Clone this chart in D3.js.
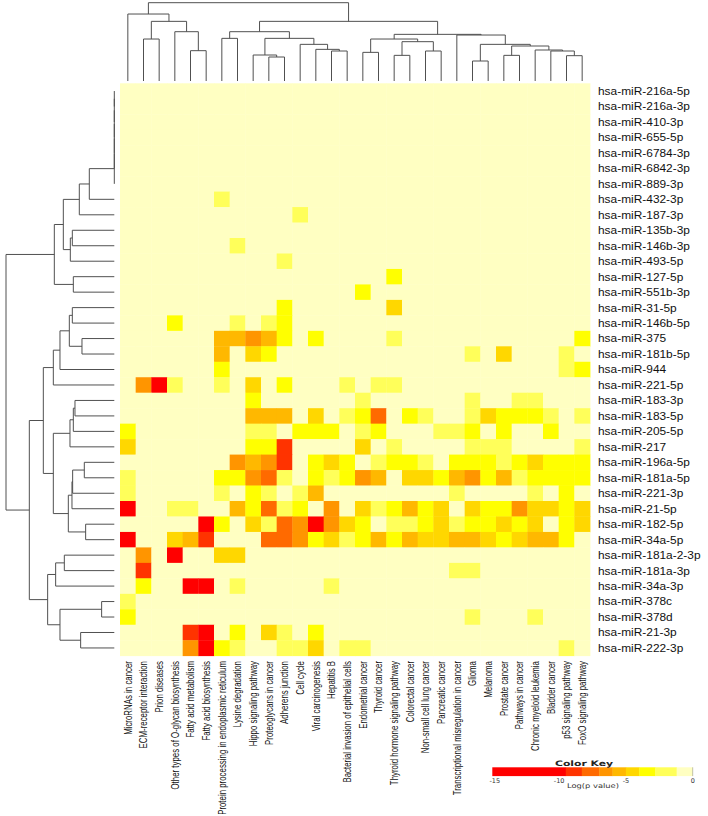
<!DOCTYPE html>
<html>
<head>
<meta charset="utf-8">
<script src="https://cdn.jsdelivr.net/npm/d3@7"></script>
<style>
  html, body { margin: 0; padding: 0; background: #ffffff; }
  svg { display: block; }
</style>
</head>
<body>
<svg id="chart" width="708" height="816"></svg>
<script>
// ---------------- DATA ----------------
const pathways = [
  "MicroRNAs in cancer", "ECM-receptor interaction", "Prion diseases",
  "Other types of O-glycan biosynthesis", "Fatty acid metabolism", "Fatty acid biosynthesis",
  "Protein processing in endoplasmic reticulum", "Lysine degradation", "Hippo signaling pathway",
  "Proteoglycans in cancer", "Adherens junction", "Cell cycle", "Viral carcinogenesis",
  "Hepatitis B", "Bacterial invasion of epithelial cells", "Endometrial cancer", "Thyroid cancer",
  "Thyroid hormone signaling pathway", "Colorectal cancer", "Non-small cell lung cancer",
  "Pancreatic cancer", "Transcriptional misregulation in cancer", "Glioma", "Melanoma",
  "Prostate cancer", "Pathways in cancer", "Chronic myeloid leukemia", "Bladder cancer",
  "p53 signaling pathway", "FoxO signaling pathway"
];

const mirnas = [
  "hsa-miR-216a-5p", "hsa-miR-216a-3p", "hsa-miR-410-3p", "hsa-miR-655-5p", "hsa-miR-6784-3p",
  "hsa-miR-6842-3p", "hsa-miR-889-3p", "hsa-miR-432-3p", "hsa-miR-187-3p", "hsa-miR-135b-3p",
  "hsa-miR-146b-3p", "hsa-miR-493-5p", "hsa-miR-127-5p", "hsa-miR-551b-3p", "hsa-miR-31-5p",
  "hsa-miR-146b-5p", "hsa-miR-375", "hsa-miR-181b-5p", "hsa-miR-944", "hsa-miR-221-5p",
  "hsa-miR-183-3p", "hsa-miR-183-5p", "hsa-miR-205-5p", "hsa-miR-217", "hsa-miR-196a-5p",
  "hsa-miR-181a-5p", "hsa-miR-221-3p", "hsa-miR-21-5p", "hsa-miR-182-5p", "hsa-miR-34a-5p",
  "hsa-miR-181a-2-3p", "hsa-miR-181a-3p", "hsa-miR-34a-3p", "hsa-miR-378c", "hsa-miR-378d",
  "hsa-miR-21-3p", "hsa-miR-222-3p"
];

// Log(p value) per miRNA (rows) x pathway (columns)
const values = [
  [0,0,0,0,0,0,0,0,0,0, 0,0,0,0,0,0,0,0,0,0, 0,0,0,0,0,0,0,0,0,0],
  [0,0,0,0,0,0,0,0,0,0, 0,0,0,0,0,0,0,0,0,0, 0,0,0,0,0,0,0,0,0,0],
  [0,0,0,0,0,0,0,0,0,0, 0,0,0,0,0,0,0,0,0,0, 0,0,0,0,0,0,0,0,0,0],
  [0,0,0,0,0,0,0,0,0,0, 0,0,0,0,0,0,0,0,0,0, 0,0,0,0,0,0,0,0,0,0],
  [0,0,0,0,0,0,0,0,0,0, 0,0,0,0,0,0,0,0,0,0, 0,0,0,0,0,0,0,0,0,0],
  [0,0,0,0,0,0,0,0,0,0, 0,0,0,0,0,0,0,0,0,0, 0,0,0,0,0,0,0,0,0,0],
  [0,0,0,0,0,0,0,0,0,0, 0,0,0,0,0,0,0,0,0,0, 0,0,0,0,0,0,0,0,0,0],
  [0,0,0,0,0,0,-2,0,0,0, 0,0,0,0,0,0,0,0,0,0, 0,0,0,0,0,0,0,0,0,0],
  [0,0,0,0,0,0,0,0,0,0, 0,-2,0,0,0,0,0,0,0,0, 0,0,0,0,0,0,0,0,0,0],
  [0,0,0,0,0,0,0,0,0,0, 0,0,0,0,0,0,0,0,0,0, 0,0,0,0,0,0,0,0,0,0],
  [0,0,0,0,0,0,0,-2,0,0, 0,0,0,0,0,0,0,0,0,0, 0,0,0,0,0,0,0,0,0,0],
  [0,0,0,0,0,0,0,0,0,0, -2,0,0,0,0,0,0,0,0,0, 0,0,0,0,0,0,0,0,0,0],
  [0,0,0,0,0,0,0,0,0,0, 0,0,0,0,0,0,0,-3.4,0,0, 0,0,0,0,0,0,0,0,0,0],
  [0,0,0,0,0,0,0,0,0,0, 0,0,0,0,0,-3.4,0,0,0,0, 0,0,0,0,0,0,0,0,0,0],
  [0,0,0,0,0,0,0,0,0,0, -3.4,0,0,0,0,0,0,-4.5,0,0, 0,0,0,0,0,0,0,0,0,0],
  [0,0,0,-3.4,0,0,0,-2,0,-2, -3.4,0,0,0,0,0,0,0,0,0, 0,0,0,0,0,0,0,0,0,0],
  [0,0,0,0,0,0,-5.5,-5.5,-6.5,-5.5, -3.4,0,-3.4,0,0,0,0,-2,0,0, 0,0,0,0,0,0,0,0,0,-3.4],
  [0,0,0,0,0,0,-5.5,0,-4.5,-3.4, 0,0,0,0,0,0,0,0,0,0, 0,0,-2,0,-4.5,0,0,0,-2,0],
  [0,0,0,0,0,0,-3.4,0,0,0, 0,0,0,0,0,0,0,0,0,0, 0,0,0,0,0,0,0,0,-2,-3.4],
  [0,-6.5,-12,-2,0,0,-2,0,-4.5,0, -3.4,0,0,0,-2,0,-2,-2,0,0, 0,0,0,0,0,0,0,0,0,0],
  [0,0,0,0,0,0,0,0,-3.4,0, 0,0,0,0,0,-2,0,0,0,0, 0,0,-2,0,0,-2,-2,0,0,0],
  [0,0,0,0,0,0,0,0,-5.5,-5.5, -5.5,0,-4.5,0,-2,-3.4,-7.6,0,-3.4,-2, 0,0,-2,-4.5,-3.4,-3.4,-3.4,-2,0,-2],
  [-3.4,0,0,0,0,0,0,0,-2,-2, 0,-3.4,-3.4,-3.4,0,-2,-3.4,0,0,0, -2,-2,-3.4,0,-3.4,0,0,-3.4,0,0],
  [-4.5,0,0,0,0,0,0,0,-3.4,-3.4, -9,0,0,0,0,-4.5,0,-2,0,0, 0,0,-2,-2,-2,0,0,0,0,-2],
  [0,0,0,0,0,0,0,-6.5,-5.5,-6.5, -9,0,-3.4,-4.5,-3.4,0,-2,-3.4,-3.4,-2, 0,-3.4,-3.4,-3.4,-2,-3.4,-4.5,-3.4,-3.4,-3.4],
  [-2,0,0,0,0,0,-3.4,-3.4,-6.5,-7.6, -2,0,-3.4,-2,-3.4,-6.5,-5.5,0,-4.5,-4.5, -3.4,-5.5,-6.5,-3.4,-5.5,-2,-3.4,-3.4,-3.4,-3.4],
  [-2,0,0,0,0,0,-2,0,-3.4,-2, 0,-2,-5.5,0,0,0,0,0,0,0, 0,-2,0,0,0,0,-2,0,-3.4,0],
  [-12,0,0,-2,-2,0,0,-5.5,-3.4,-7.6, -2,-3.4,0,-6.5,0,-4.5,-2,-3.4,-5.5,-3.4, -4.5,0,-4.5,-3.4,-3.4,-6.5,-4.5,-4.5,-3.4,-4.5],
  [0,0,0,0,0,-12,-3.4,0,-4.5,-2, -7.6,-6.5,-12,-6.5,-4.5,-3.4,0,-2,-2,-3.4, -4.5,-2,-3.4,-3.4,-4.5,-3.4,-4.5,0,-3.4,-4.5],
  [-12,0,0,-4.5,-5.5,-9,0,0,0,-7.6, -7.6,-6.5,-3.4,-4.5,-2,-3.4,-5.5,-3.4,-5.5,-4.5, -4.5,-5.5,-5.5,-4.5,-3.4,-4.5,-5.5,-5.5,-3.4,0],
  [0,-6.5,0,-12,0,0,-4.5,-4.5,0,0, 0,0,0,0,0,0,0,0,0,0, 0,0,0,0,0,0,0,0,0,0],
  [0,-9,0,0,0,0,0,0,0,0, 0,0,0,0,0,0,0,0,0,0, 0,-2,-2,0,0,0,0,0,0,0],
  [0,-3.4,0,0,-12,-12,0,-2,0,0, 0,0,0,-2,0,0,0,0,0,0, 0,0,0,0,0,0,0,0,0,0],
  [-2,0,0,0,0,0,0,0,0,0, 0,0,0,0,0,0,0,0,0,0, 0,0,0,0,0,0,0,0,0,0],
  [-3.4,0,0,0,0,0,0,0,0,0, 0,0,0,0,0,0,0,0,0,0, 0,0,-2,0,0,0,-2,0,0,0],
  [0,0,0,0,-9,-12,0,-3.4,0,-4.5, -2,0,-3.4,0,0,0,0,0,0,0, 0,0,0,0,0,0,0,0,0,0],
  [0,0,0,0,-6.5,-12,-3.4,-2,0,0, -2,-2,-4.5,0,-2,-2,0,0,0,0, 0,0,0,0,0,0,0,0,-2,0]
];

// Column dendrogram: leaf = column index, node = [left, right, height]
const colTree = [
  [0, [[1, 2, 126], [3, [4, 5, 91], 148], 179], 201],
  [
    [[6, 7, 128], [[8, [9, 10, 72], 78], [11, [12, [13, 14, 90], 95], 110], 128], 148],
    [
      [[15, 16, 86], [[17, 18, 77], [19, 20, 90], 118], 126],
      [21, [[22, 23, 60], [[24, 25, 77], [26, [27, [28, 29, 76], 90], 93], 105], 110], 138],
      140
    ],
    179
  ],
  235
];

// Row dendrogram: leaf = row index, node = [left, right, height]
const rowZero = [[[[[[0, 1, 0], 2, 0], 3, 0], 4, 0], 5, 0], 6, 0];
const rowTree = [
  [[[[rowZero, 7, 75], 8, 105], [[9, 10, 126], 11, 132], 153], [12, 13, 123], 180],
  [
    [
      [[[[14, 15, 126], [16, 17, 97], 135], 18, 163], 19, 183],
      [[[[20, 21, 118], 22, 123], 23, 133], [[[[24, 25, 90], 26, 125], 27, 127], [28, 29, 86], 138], 183],
      213
    ],
    [[[30, 31, 150], 32, 176], [[33, 34, 38], [35, 36, 101], 163], 200],
    255
  ],
  325
];

const colorBreaks = [-9.5, -8.3, -7.0, -6.0, -5.0, -4.0, -2.8, -1.2];
const colorRange = ["#ff0000", "#ff3300", "#ff6a00", "#ff9500", "#ffb800", "#ffd700", "#ffff00", "#ffff5a", "#ffffc2"];
const keyDomain = [-15, 0];
const keyTicks = [-15, -10, -5, 0];

// ---------------- CHART ----------------
const svg = d3.select("#chart");
const FONT = "'Liberation Sans', Arial, sans-serif";

const x = d3.scaleBand().domain(pathways).range([120, 590]).padding(0);
const y = d3.scaleBand().domain(mirnas).range([83.3, 655.7]).padding(0);
const color = d3.scaleThreshold().domain(colorBreaks).range(colorRange);

// Heatmap cells
const cells = [];
values.forEach((row, i) => row.forEach((v, j) => cells.push({ r: mirnas[i], c: pathways[j], v })));
svg.append("g").selectAll("rect").data(cells).join("rect")
  .attr("x", d => x(d.c))
  .attr("y", d => y(d.r))
  .attr("width", x.bandwidth() + 0.4)
  .attr("height", y.bandwidth() + 0.4)
  .attr("fill", d => color(d.v));

// Dendrogram helpers
function drawTree(tree, leafPos, hScale, orient, g) {
  const path = d3.path();
  function walk(node) {
    if (typeof node === "number") return { p: leafPos(node), h: 0 };
    const a = walk(node[0]), b = walk(node[1]);
    const h = node[2];
    if (orient === "top") {
      path.moveTo(a.p, hScale(a.h)); path.lineTo(a.p, hScale(h));
      path.lineTo(b.p, hScale(h)); path.lineTo(b.p, hScale(b.h));
    } else {
      path.moveTo(hScale(a.h), a.p); path.lineTo(hScale(h), a.p);
      path.lineTo(hScale(h), b.p); path.lineTo(hScale(b.h), b.p);
    }
    return { p: (a.p + b.p) / 2, h };
  }
  walk(tree);
  g.append("path").attr("d", path.toString())
    .attr("fill", "none").attr("stroke", "#505050").attr("stroke-width", 1);
}

const colH = d3.scaleLinear().domain([0, 235]).range([81, 2.7]);
drawTree(colTree, i => x(pathways[i]) + x.bandwidth() / 2, colH, "top", svg.append("g"));

const rowH = d3.scaleLinear().domain([0, 325]).range([114.3, 6]);
drawTree(rowTree, i => y(mirnas[i]) + y.bandwidth() / 2, rowH, "left", svg.append("g"));

// Row labels (horizontally stretched like the reference)
const rowG = svg.append("g").attr("font-family", FONT).attr("font-size", 10.8).attr("fill", "#111");
const probe = rowG.append("text").text(mirnas[0]);
const rowScale = 92 / probe.node().getComputedTextLength();
probe.remove();
rowG.selectAll("text").data(mirnas).join("text")
  .attr("transform", d => `translate(598,${y(d) + y.bandwidth() / 2}) scale(${rowScale},1)`)
  .attr("dy", "0.36em")
  .text(d => d);

// Column labels (rotated, compressed along text)
const colG = svg.append("g").attr("font-family", FONT).attr("font-size", 10.3).attr("fill", "#111");
const probe2 = colG.append("text").text(pathways[6]);
const colScale = 154 / probe2.node().getComputedTextLength();
probe2.remove();
colG.selectAll("text").data(pathways).join("text")
  .attr("transform", d => `translate(${x(d) + x.bandwidth() / 2},661) rotate(-90) scale(${colScale},1)`)
  .attr("text-anchor", "end")
  .attr("dy", "0.36em")
  .text(d => d);

// Color key
const keyX = d3.scaleLinear().domain(keyDomain).range([492.3, 692.7]);
const bins = [keyDomain[0], ...colorBreaks, keyDomain[1]];
const keyG = svg.append("g");
keyG.selectAll("rect").data(d3.pairs(bins)).join("rect")
  .attr("x", d => keyX(d[0]))
  .attr("y", 767.3)
  .attr("width", d => keyX(d[1]) - keyX(d[0]) + 0.3)
  .attr("height", 8.8)
  .attr("fill", d => color((d[0] + d[1]) / 2));
keyG.append("line")
  .attr("x1", keyX(0)).attr("x2", keyX(0)).attr("y1", 767.3).attr("y2", 776.1)
  .attr("stroke", "#999").attr("stroke-width", 0.6);

keyG.append("text")
  .attr("x", 584).attr("y", 765.5)
  .attr("text-anchor", "middle")
  .attr("font-family", "'DejaVu Sans', sans-serif").attr("font-weight", "bold").attr("font-size", 7.5)
  .attr("textLength", 58).attr("lengthAdjust", "spacingAndGlyphs")
  .attr("fill", "#222")
  .text("Color Key");

keyG.selectAll("text.tick").data(keyTicks).join("text")
  .attr("class", "tick")
  .attr("x", d => keyX(d) + (d === -15 ? 2.5 : 0))
  .attr("y", 783)
  .attr("text-anchor", "middle")
  .attr("font-family", "'DejaVu Sans', sans-serif").attr("font-size", 6.5)
  .attr("fill", "#333")
  .text(d => d);

keyG.append("text")
  .attr("x", 593).attr("y", 788)
  .attr("text-anchor", "middle")
  .attr("font-family", "'DejaVu Sans', sans-serif").attr("font-size", 6.5)
  .attr("textLength", 52).attr("lengthAdjust", "spacingAndGlyphs")
  .attr("fill", "#333")
  .text("Log(p value)");
</script>
</body>
</html>
